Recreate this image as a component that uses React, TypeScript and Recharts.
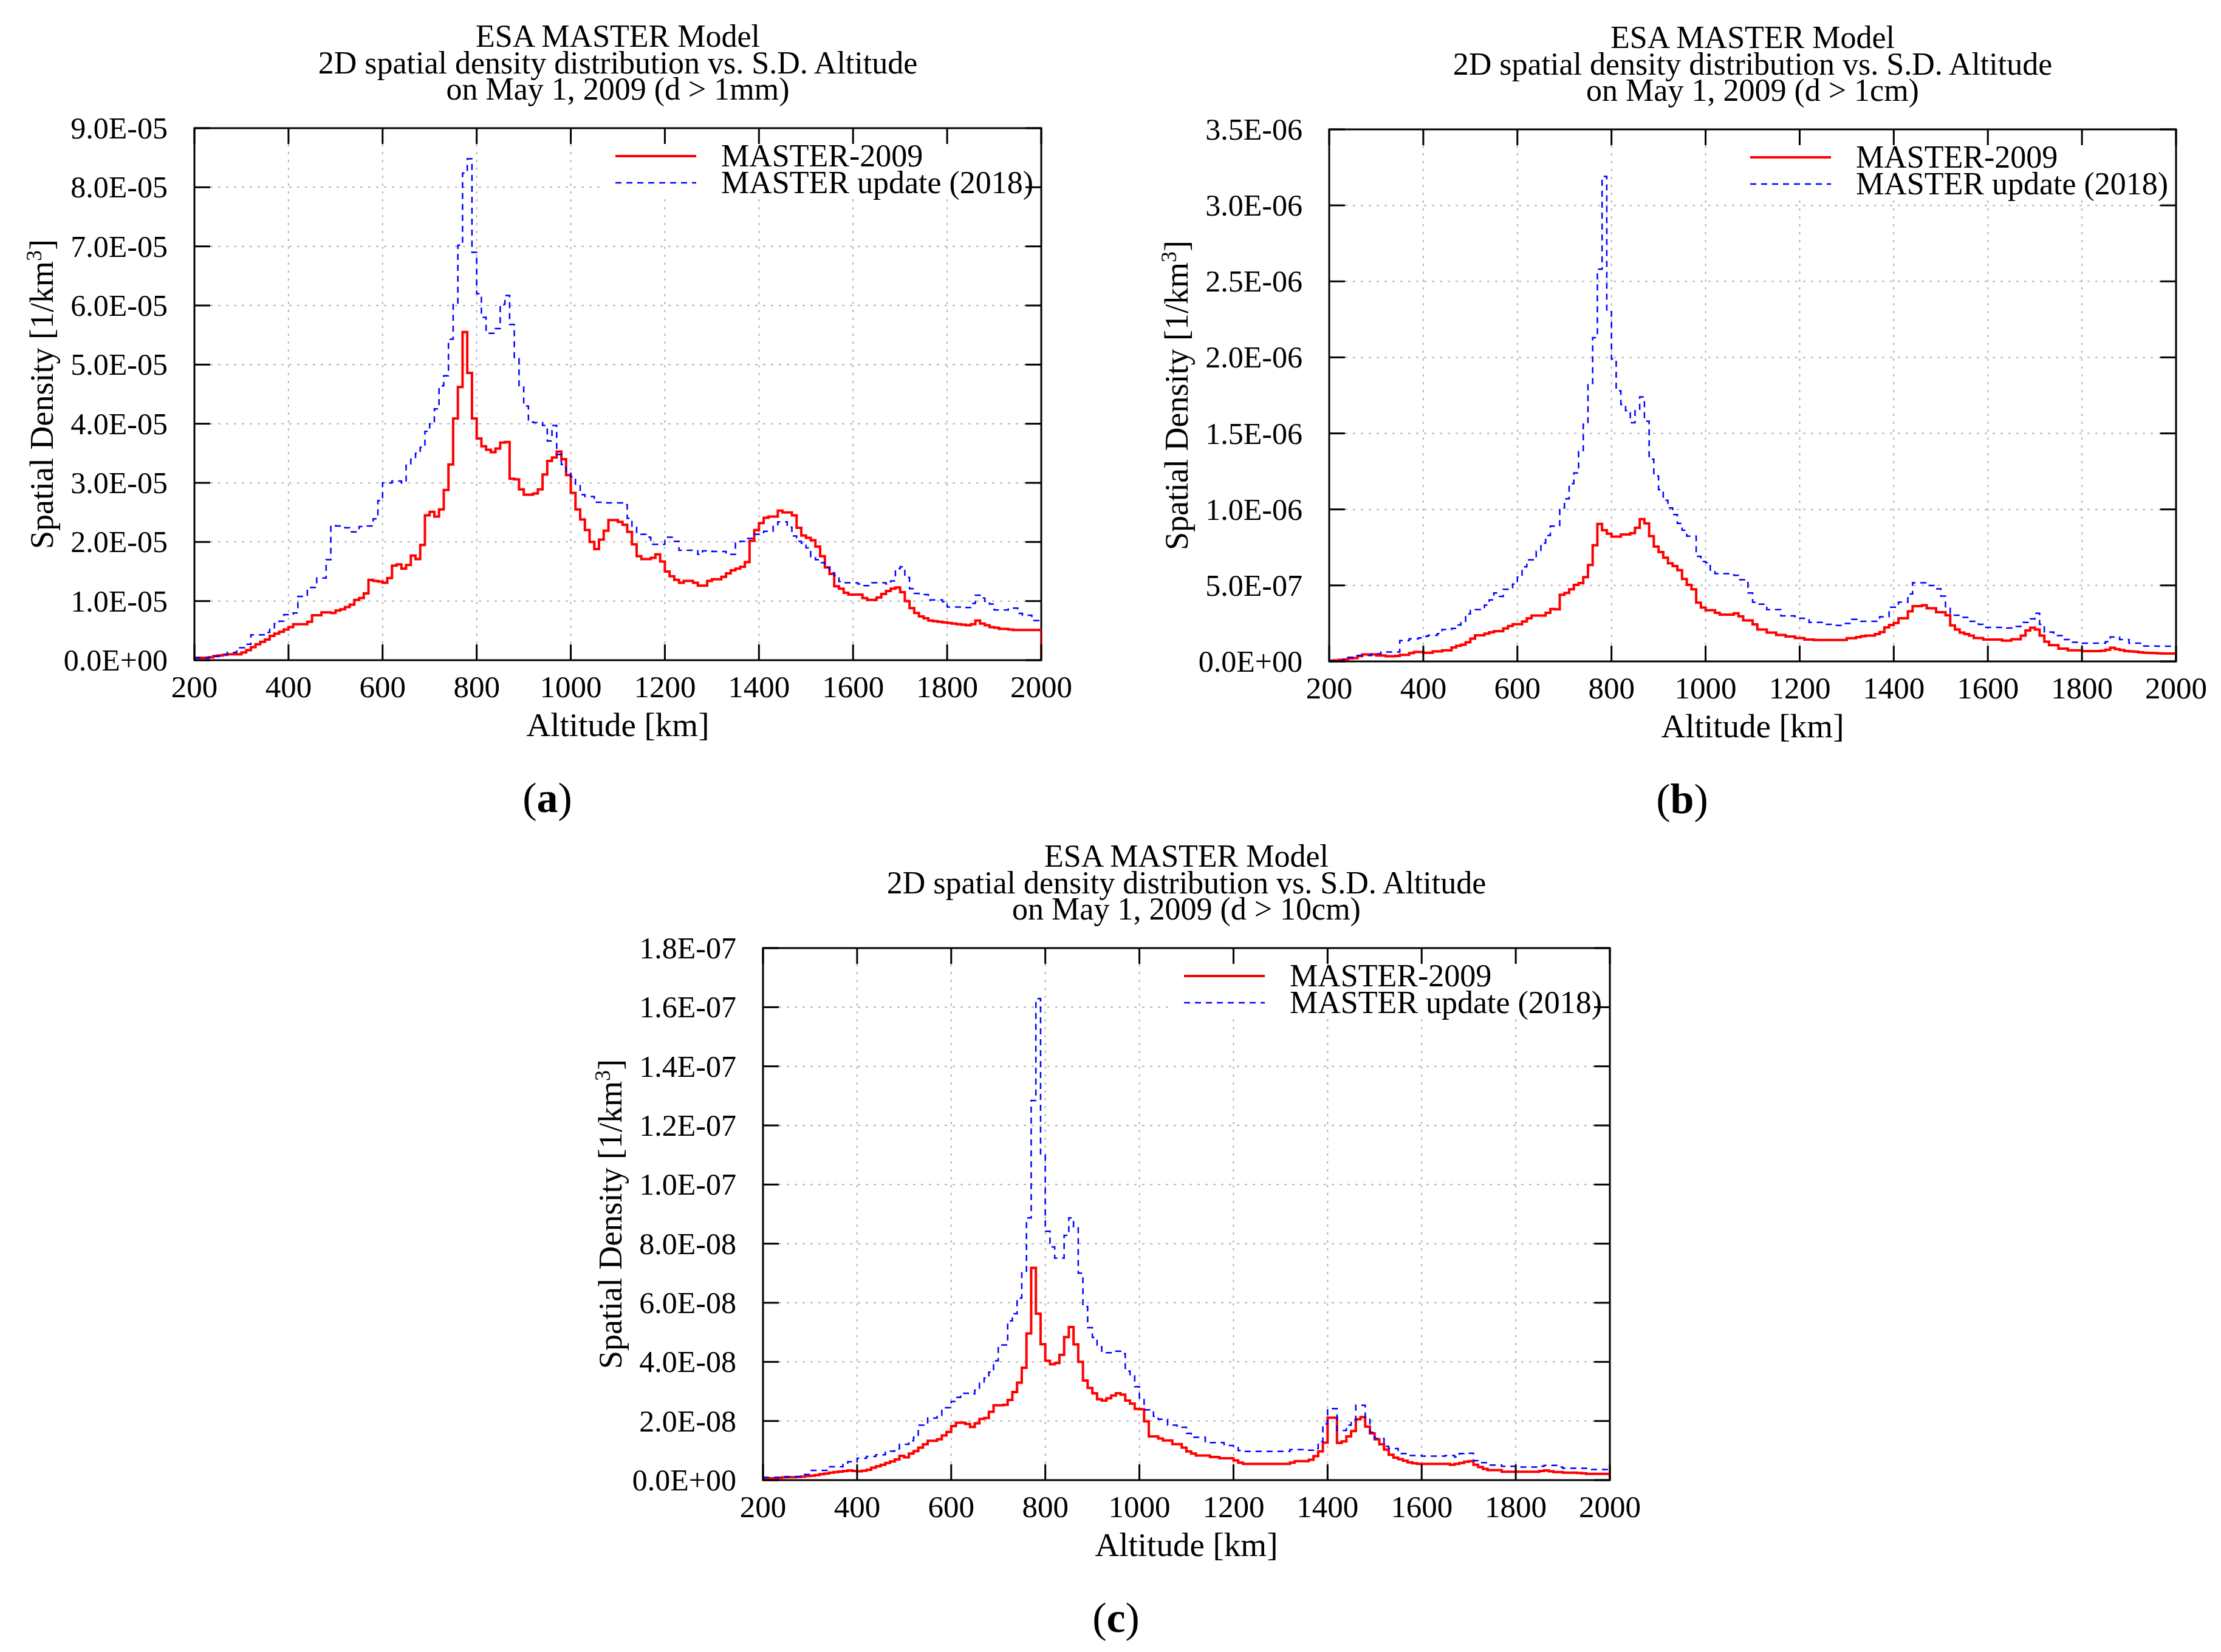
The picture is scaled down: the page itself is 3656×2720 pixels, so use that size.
import { useMemo } from "react";
import {
  CartesianGrid,
  Line,
  LineChart,
  ReferenceArea,
  XAxis,
  YAxis,
} from "recharts";

// histogram bins: 10 km wide, first bin starts at 200 km
const BIN_START = 200;
const BIN_WIDTH = 10;
const X_TICKS = [200, 400, 600, 800, 1000, 1200, 1400, 1600, 1800, 2000];

// panel (a) d > 1mm, values in 1e-5 / km^3
const A_RED = [
  0.04, 0.04, 0.04, 0.05, 0.07, 0.08, 0.09, 0.1, 0.1, 0.1,
  0.13, 0.17, 0.22, 0.27, 0.31, 0.35, 0.41, 0.45, 0.48, 0.52,
  0.56, 0.61, 0.61, 0.61, 0.65, 0.76, 0.76, 0.81, 0.81, 0.8,
  0.84, 0.86, 0.9, 0.94, 1.02, 1.05, 1.13, 1.36, 1.34, 1.33,
  1.31, 1.39, 1.6, 1.62, 1.55, 1.61, 1.77, 1.71, 1.95, 2.45,
  2.51, 2.43, 2.55, 2.88, 3.31, 4.09, 4.62, 5.55, 4.86, 4.09,
  3.75, 3.62, 3.56, 3.52, 3.58, 3.68, 3.69, 3.07, 3.06, 2.89,
  2.8, 2.8, 2.82, 2.89, 3.14, 3.37, 3.43, 3.53, 3.4, 3.13,
  2.83, 2.55, 2.38, 2.2, 2.0, 1.88, 2.04, 2.19, 2.37, 2.37,
  2.34, 2.29, 2.17, 1.96, 1.76, 1.71, 1.71, 1.73, 1.79, 1.67,
  1.5, 1.42, 1.36, 1.31, 1.34, 1.34, 1.31, 1.26, 1.26, 1.34,
  1.37, 1.37, 1.41, 1.47, 1.52, 1.55, 1.58, 1.66, 2.02, 2.2,
  2.32, 2.41, 2.43, 2.43, 2.53, 2.5, 2.5, 2.45, 2.24, 2.11,
  2.07, 2.03, 1.92, 1.76, 1.57, 1.46, 1.25, 1.21, 1.14, 1.11,
  1.11, 1.11, 1.05, 1.02, 1.02, 1.06, 1.12, 1.17, 1.21, 1.23,
  1.15, 1.0, 0.88, 0.8, 0.74, 0.71, 0.67, 0.66, 0.65, 0.64,
  0.63, 0.62, 0.61, 0.6, 0.59, 0.61, 0.67, 0.62, 0.59, 0.56,
  0.55, 0.53, 0.53, 0.52, 0.51, 0.51, 0.51, 0.51, 0.51, 0.51,
];
const A_BLUE = [
  0.04, 0.04, 0.04, 0.05, 0.07, 0.07, 0.1, 0.13, 0.13, 0.21,
  0.21, 0.27, 0.43, 0.43, 0.43, 0.47, 0.55, 0.62, 0.66, 0.77,
  0.78, 0.8, 1.08, 1.08, 1.23, 1.23, 1.39, 1.39, 1.7, 2.28,
  2.27, 2.27, 2.24, 2.17, 2.17, 2.26, 2.27, 2.27, 2.39, 2.7,
  3.0, 3.0, 3.03, 3.03, 3.0, 3.32, 3.4, 3.5, 3.6, 3.87,
  4.0, 4.25, 4.64, 4.81, 5.43, 6.03, 7.02, 8.24, 8.48, 6.9,
  6.2, 5.8, 5.53, 5.53, 5.61, 6.02, 6.17, 5.68, 5.1, 4.62,
  4.3, 4.03, 4.02, 4.02, 3.97, 3.71, 3.97, 3.48, 3.31, 3.19,
  3.1, 2.95, 2.8, 2.77, 2.77, 2.67, 2.67, 2.66, 2.66, 2.66,
  2.66, 2.63, 2.4, 2.25, 2.13, 2.13, 2.08, 1.96, 1.96, 1.96,
  2.08, 2.08, 2.01, 1.86, 1.86, 1.86, 1.85, 1.79, 1.85, 1.85,
  1.84, 1.84, 1.84, 1.79, 1.79, 1.98, 2.01, 2.06, 2.06, 2.13,
  2.13, 2.18, 2.18, 2.29, 2.34, 2.34, 2.25, 2.1, 2.01, 1.98,
  1.9, 1.75, 1.7, 1.65, 1.57, 1.48, 1.43, 1.33, 1.31, 1.31,
  1.31, 1.29, 1.26, 1.26, 1.31, 1.31, 1.31, 1.29, 1.34, 1.55,
  1.58, 1.4, 1.21, 1.13, 1.11, 1.11, 1.02, 1.02, 1.02, 0.99,
  0.9, 0.9, 0.9, 0.89, 0.89, 0.96, 1.1, 1.05, 0.98, 0.95,
  0.85, 0.85, 0.85, 0.88, 0.88, 0.79, 0.76, 0.76, 0.67, 0.67,
];

// panel (b) d > 1cm, values in 1e-7 / km^3
const B_RED = [
  0.05, 0.07, 0.1, 0.13, 0.2, 0.22, 0.35, 0.46, 0.46, 0.46,
  0.39, 0.39, 0.34, 0.34, 0.36, 0.43, 0.43, 0.55, 0.62, 0.62,
  0.57, 0.57, 0.66, 0.66, 0.73, 0.73, 0.92, 1.03, 1.1, 1.26,
  1.5, 1.72, 1.72, 1.83, 1.92, 1.99, 1.99, 2.17, 2.33, 2.45,
  2.45, 2.63, 2.84, 3.02, 3.02, 3.02, 3.2, 3.45, 3.43, 4.39,
  4.5, 4.74, 5.03, 5.15, 5.54, 6.34, 7.64, 9.04, 8.63, 8.4,
  8.21, 8.21, 8.35, 8.35, 8.44, 8.79, 9.36, 9.08, 8.24, 7.55,
  7.19, 6.82, 6.45, 6.27, 6.0, 5.42, 5.03, 4.74, 3.87, 3.55,
  3.37, 3.37, 3.2, 3.08, 3.08, 3.08, 3.17, 2.97, 2.7, 2.7,
  2.44, 2.1, 2.1, 1.9, 1.9, 1.74, 1.74, 1.64, 1.64, 1.54,
  1.54, 1.44, 1.44, 1.41, 1.41, 1.41, 1.41, 1.41, 1.41, 1.41,
  1.53, 1.53, 1.6, 1.66, 1.7, 1.7, 1.8, 1.93, 2.24, 2.4,
  2.53, 2.84, 2.84, 3.3, 3.64, 3.64, 3.7, 3.5, 3.5, 3.24,
  3.24, 3.04, 2.37, 2.1, 1.9, 1.8, 1.7, 1.54, 1.54, 1.44,
  1.44, 1.44, 1.44, 1.37, 1.37, 1.46, 1.46, 1.7, 2.04, 2.22,
  2.1, 1.7, 1.3, 1.07, 1.07, 0.84, 0.84, 0.73, 0.73, 0.73,
  0.68, 0.68, 0.68, 0.68, 0.7, 0.77, 0.9, 0.81, 0.75, 0.68,
  0.66, 0.64, 0.6, 0.57, 0.56, 0.55, 0.53, 0.52, 0.52, 0.52,
];
const B_BLUE = [
  0.05, 0.05, 0.05, 0.1, 0.27, 0.27, 0.39, 0.39, 0.39, 0.5,
  0.5, 0.62, 0.62, 0.62, 0.62, 1.37, 1.37, 1.49, 1.49, 1.55,
  1.65, 1.72, 1.72, 1.83, 2.1, 2.1, 2.17, 2.4, 2.56, 3.13,
  3.36, 3.41, 3.41, 3.71, 4.05, 4.5, 4.28, 4.74, 4.74, 5.08,
  5.54, 6.22, 6.68, 6.68, 7.25, 7.78, 8.28, 8.9, 8.9, 10.1,
  10.7, 11.7, 12.4, 13.8, 15.6, 18.2, 21.3, 25.8, 31.9, 23.0,
  19.9, 17.8, 16.9, 16.5, 15.7, 16.6, 17.4, 15.8, 13.3, 12.2,
  11.3, 10.6, 10.1, 9.66, 9.08, 8.63, 8.24, 8.24, 6.91, 6.57,
  6.5, 6.0, 5.77, 5.77, 5.77, 5.77, 5.66, 5.37, 5.37, 4.5,
  3.9, 3.77, 3.77, 3.41, 3.41, 3.41, 3.0, 3.0, 3.0, 2.84,
  2.84, 2.84, 2.57, 2.57, 2.57, 2.44, 2.44, 2.37, 2.37, 2.5,
  2.5, 2.77, 2.77, 2.64, 2.64, 2.64, 2.64, 2.94, 2.94, 3.57,
  3.57, 3.9, 3.9, 4.43, 5.17, 5.17, 5.17, 4.99, 4.99, 4.77,
  4.3, 3.6, 3.04, 3.04, 2.9, 2.9, 2.64, 2.64, 2.44, 2.24,
  2.24, 2.24, 2.24, 2.24, 2.2, 2.2, 2.3, 2.57, 2.57, 2.8,
  3.17, 2.44, 1.93, 1.93, 1.7, 1.7, 1.44, 1.44, 1.26, 1.26,
  1.2, 1.2, 1.2, 1.2, 1.2, 1.3, 1.61, 1.61, 1.44, 1.44,
  1.2, 1.2, 1.2, 1.01, 1.01, 1.01, 1.0, 1.0, 1.0, 1.0,
];

// panel (c) d > 10cm, values in 1e-8 / km^3
const C_RED = [
  0.06, 0.06, 0.06, 0.07, 0.09, 0.1, 0.1, 0.11, 0.12, 0.14,
  0.15, 0.17, 0.2, 0.22, 0.25, 0.27, 0.29, 0.31, 0.33, 0.31,
  0.3, 0.32, 0.35, 0.42, 0.47, 0.52, 0.58, 0.63, 0.7, 0.82,
  0.77, 0.9, 0.98, 1.1, 1.21, 1.33, 1.33, 1.38, 1.51, 1.63,
  1.83, 1.94, 1.94, 1.9, 1.8, 1.92, 2.07, 2.1, 2.31, 2.53,
  2.53, 2.55, 2.71, 2.98, 3.3, 3.8, 4.96, 7.18, 5.63, 4.6,
  4.04, 3.92, 3.96, 4.24, 4.84, 5.18, 4.59, 4.0, 3.37, 3.12,
  2.94, 2.74, 2.69, 2.77, 2.86, 2.94, 2.89, 2.69, 2.59, 2.41,
  2.4, 1.99, 1.48, 1.48, 1.41, 1.34, 1.34, 1.22, 1.22, 1.1,
  0.97, 0.9, 0.83, 0.83, 0.83, 0.78, 0.78, 0.74, 0.74, 0.74,
  0.67, 0.59, 0.55, 0.55, 0.55, 0.55, 0.55, 0.55, 0.55, 0.55,
  0.55, 0.55, 0.59, 0.64, 0.64, 0.64, 0.69, 0.81, 0.97, 1.27,
  2.11, 2.11, 1.26, 1.31, 1.48, 1.66, 2.06, 2.13, 1.81, 1.58,
  1.38, 1.21, 1.03, 0.86, 0.76, 0.71, 0.66, 0.6, 0.57, 0.55,
  0.55, 0.55, 0.55, 0.55, 0.55, 0.55, 0.52, 0.55, 0.58, 0.62,
  0.64, 0.52, 0.44, 0.38, 0.34, 0.34, 0.34, 0.28, 0.28, 0.28,
  0.28, 0.28, 0.28, 0.28, 0.28, 0.31, 0.33, 0.3, 0.27, 0.27,
  0.25, 0.25, 0.25, 0.24, 0.23, 0.21, 0.21, 0.21, 0.21, 0.21,
];
const C_BLUE = [
  0.09, 0.09, 0.09, 0.09, 0.12, 0.12, 0.12, 0.12, 0.19, 0.19,
  0.33, 0.33, 0.33, 0.33, 0.45, 0.45, 0.45, 0.53, 0.62, 0.62,
  0.74, 0.74, 0.8, 0.8, 0.86, 0.86, 0.98, 0.98, 1.06, 1.21,
  1.21, 1.33, 1.45, 1.86, 1.86, 2.1, 2.1, 2.19, 2.45, 2.45,
  2.66, 2.8, 2.94, 2.94, 2.92, 3.04, 3.27, 3.45, 3.65, 4.04,
  4.57, 4.57, 5.39, 5.63, 6.16, 7.07, 8.87, 12.84, 16.29, 11.0,
  8.42, 7.89, 7.51, 7.51, 8.28, 8.87, 8.57, 7.0, 5.87, 5.16,
  4.83, 4.51, 4.31, 4.31, 4.31, 4.36, 4.28, 3.69, 3.53, 3.16,
  2.78, 2.38, 2.38, 2.16, 2.06, 2.06, 1.86, 1.86, 1.79, 1.79,
  1.58, 1.45, 1.45, 1.45, 1.27, 1.27, 1.27, 1.27, 1.17, 1.17,
  1.1, 1.0, 0.97, 0.97, 0.97, 0.97, 0.97, 0.97, 0.97, 0.97,
  0.97, 0.97, 1.03, 1.03, 1.03, 1.01, 1.01, 1.07, 1.3, 1.9,
  2.42, 2.42, 1.68, 1.68, 1.86, 2.03, 2.53, 2.53, 2.1, 1.62,
  1.41, 1.41, 1.14, 1.07, 1.07, 0.9, 0.9, 0.83, 0.83, 0.83,
  0.81, 0.81, 0.81, 0.81, 0.81, 0.83, 0.83, 0.78, 0.9, 0.91,
  0.91, 0.66, 0.59, 0.59, 0.51, 0.51, 0.51, 0.47, 0.47, 0.47,
  0.44, 0.44, 0.44, 0.44, 0.44, 0.47, 0.5, 0.5, 0.5, 0.44,
  0.4, 0.4, 0.4, 0.4, 0.4, 0.36, 0.36, 0.36, 0.36, 0.36,
];

const A_Y_TICKS = [0, 1, 2, 3, 4, 5, 6, 7, 8, 9];
const B_Y_TICKS = [0, 5, 10, 15, 20, 25, 30, 35];
const C_Y_TICKS = [0, 2, 4, 6, 8, 10, 12, 14, 16, 18];

const SERIES_NAMES = ["MASTER-2009", "MASTER update (2018)"];
const TITLE_1 = "ESA MASTER Model";
const TITLE_2 = "2D spatial density distribution vs. S.D. Altitude";

const PANELS = [
  { id: "a", size: "d > 1mm", red: A_RED, blue: A_BLUE, unit: 1e-5, yTicks: A_Y_TICKS, left: 320, top: 211 },
  { id: "b", size: "d > 1cm", red: B_RED, blue: B_BLUE, unit: 1e-7, yTicks: B_Y_TICKS, left: 2188, top: 213 },
  { id: "c", size: "d > 10cm", red: C_RED, blue: C_BLUE, unit: 1e-8, yTicks: C_Y_TICKS, left: 1256, top: 1561 },
];

const PLOT_W = 1394;
const PLOT_H = 876;
const TICK_LEN = 26;
const M_TOP = 50;
const FONT = '"Liberation Serif", "DejaVu Serif", serif';

function sci(v: number) {
  if (v === 0) return "0.0E+00";
  const [m, e] = v.toExponential(1).split("e");
  const n = parseInt(e, 10);
  return `${m}E${n < 0 ? "-" : "+"}${String(Math.abs(n)).padStart(2, "0")}`;
}

function Panel({ p }: { p: (typeof PANELS)[number] }) {
  const yMax = p.yTicks[p.yTicks.length - 1];
  const rows = useMemo(() => {
    const r = p.red.map((v, i) => ({ alt: BIN_START + i * BIN_WIDTH, red: v, blue: p.blue[i] }));
    // closing edge of the last bin; MASTER-2009 drops to zero at 2000 km
    r.push({ alt: 2000, red: 0, blue: p.blue[p.blue.length - 1] });
    return r;
  }, [p]);

  // white key box in data units (hides the grid behind the legend)
  const legendX1 = 2000 - (726 / PLOT_W) * 1800;
  const legendY1 = yMax - (112 / PLOT_H) * yMax;

  const xTick = (props: any) => {
    const { x, y, payload } = props;
    return (
      <g>
        <line x1={x} x2={x} y1={y} y2={y - TICK_LEN} stroke="#000" strokeWidth={3} />
        <line x1={x} x2={x} y1={y - PLOT_H} y2={y - PLOT_H + TICK_LEN} stroke="#000" strokeWidth={3} />
        <text x={x} y={y + 44} textAnchor="middle" dominantBaseline="central" fontFamily={FONT} fontSize={51} fill="#000">
          {payload.value}
        </text>
      </g>
    );
  };
  const yTick = (props: any) => {
    const { x, y, payload } = props;
    return (
      <g>
        <line x1={x} x2={x + TICK_LEN} y1={y} y2={y} stroke="#000" strokeWidth={3} />
        <line x1={x + PLOT_W} x2={x + PLOT_W - TICK_LEN} y1={y} y2={y} stroke="#000" strokeWidth={3} />
        <text x={x - 44} y={y} textAnchor="end" dominantBaseline="central" fontFamily={FONT} fontSize={50} fill="#000">
          {sci(payload.value * p.unit)}
        </text>
      </g>
    );
  };

  const cx = p.left + PLOT_W / 2;
  const right = p.left + PLOT_W;
  const text = { position: "absolute" as const, fontFamily: FONT, color: "#000", whiteSpace: "nowrap" as const };

  return (
    <>
      <div style={{ position: "absolute", left: p.left - 300, top: p.top - M_TOP }}>
        <LineChart
          width={300 + PLOT_W + 60}
          height={M_TOP + PLOT_H + 140}
          data={rows}
          margin={{ top: M_TOP, right: 60, left: 20, bottom: 20 }}
        >
          <CartesianGrid stroke="#b4b4b4" strokeWidth={2} strokeDasharray="4 9" />
          <ReferenceArea x1={legendX1} x2={2000} y1={legendY1} y2={yMax} fill="#fff" fillOpacity={1} stroke="none" />
          <XAxis
            type="number"
            dataKey="alt"
            domain={[200, 2000]}
            ticks={X_TICKS}
            interval={0}
            height={120}
            tickSize={0}
            tickMargin={0}
            axisLine={false}
            tickLine={false}
            tick={xTick}
            allowDataOverflow
          />
          <YAxis
            type="number"
            domain={[0, yMax]}
            ticks={p.yTicks}
            interval={0}
            width={280}
            tickSize={0}
            tickMargin={0}
            axisLine={false}
            tickLine={false}
            tick={yTick}
            allowDataOverflow
          />
          <Line type="stepAfter" dataKey="red" stroke="#ff0000" strokeWidth={4} dot={false} isAnimationActive={false} />
          <Line
            type="stepAfter"
            dataKey="blue"
            stroke="#0000ff"
            strokeWidth={2.5}
            strokeDasharray="10 8"
            dot={false}
            isAnimationActive={false}
          />
          <ReferenceArea x1={200} x2={2000} y1={0} y2={yMax} fill="none" stroke="#000" strokeWidth={3} />
        </LineChart>
      </div>

      {[TITLE_1, TITLE_2, `on May 1, 2009 (${p.size})`].map((t, i) => (
        <div
          key={i}
          style={{ ...text, left: cx, top: p.top - 152 + i * 43.5, transform: "translate(-50%, -50%)", fontSize: 52, lineHeight: "43px" }}
        >
          {t}
        </div>
      ))}

      {/* legend */}
      <div style={{ position: "absolute", left: right - 701, top: p.top + 46 - 2, width: 133, height: 4, background: "#ff0000" }} />
      <svg style={{ position: "absolute", left: right - 701, top: p.top + 90 - 3 }} width={133} height={6}>
        <line x1={0} y1={3} x2={133} y2={3} stroke="#0000ff" strokeWidth={2.5} strokeDasharray="10 8" />
      </svg>
      <div style={{ ...text, left: right - 527, top: p.top + 46, transform: "translateY(-50%)", fontSize: 52, lineHeight: "44px" }}>
        {SERIES_NAMES[0]}
      </div>
      <div style={{ ...text, left: right - 527, top: p.top + 90, transform: "translateY(-50%)", fontSize: 52, lineHeight: "44px" }}>
        {SERIES_NAMES[1]}
      </div>

      <div style={{ ...text, left: cx, top: p.top + PLOT_H + 106, transform: "translate(-50%, -50%)", fontSize: 55, lineHeight: "55px" }}>
        Altitude [km]
      </div>
      <div
        style={{
          ...text,
          left: p.left - 258,
          top: p.top + PLOT_H / 2,
          transform: "translate(-50%, -50%) rotate(-90deg)",
          fontSize: 54,
          lineHeight: "54px",
        }}
      >
        Spatial Density [1/km<sup style={{ fontSize: 36 }}>3</sup>]
      </div>
      <div style={{ ...text, left: cx - 116, top: p.top + PLOT_H + 227, transform: "translate(-50%, -50%)", fontSize: 70, lineHeight: "70px" }}>
        (<b>{p.id}</b>)
      </div>
    </>
  );
}

export default function App() {
  return (
    <div style={{ position: "absolute", left: 0, top: 0, width: 3656, height: 2720, background: "#fff", overflow: "hidden" }}>
      {PANELS.map((p) => (
        <Panel key={p.id} p={p} />
      ))}
    </div>
  );
}
